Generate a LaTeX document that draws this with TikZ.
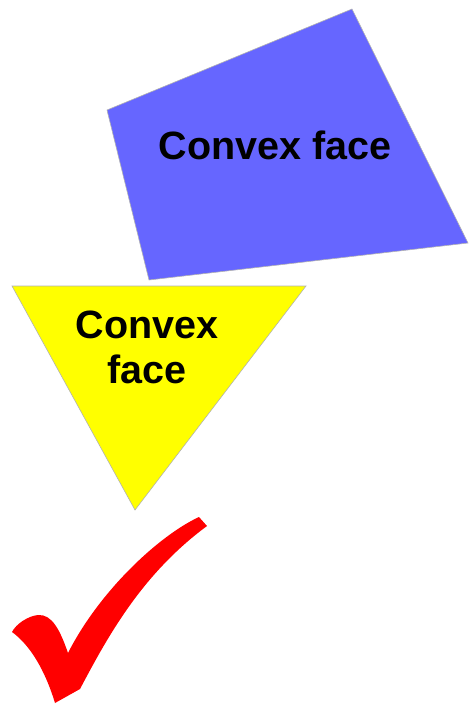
\documentclass[tikz,border=0pt]{standalone}
\usepackage{fontspec}
\setmainfont{Liberation Sans}
\definecolor{faceblue}{RGB}{102,102,255}
\definecolor{faceyellow}{RGB}{255,255,0}
\definecolor{checkred}{RGB}{255,0,0}
\tikzset{
  face/.style={draw=gray!60, line width=0.6pt, line join=miter},
  facelabel/.style={font=\bfseries\fontsize{39.5}{45}\selectfont, text=black, inner sep=0pt}
}
\begin{document}
\begin{tikzpicture}[x=1pt,y=-1pt]
\useasboundingbox (0,0) rectangle (469,707);
% blue quadrilateral
\draw[face, fill=faceblue] (107,110) -- (352,9) -- (468,243) -- (149,280) -- cycle;
\node[facelabel, anchor=base] (bluelabel) at (275,159) {Convex face};
% yellow triangle
\draw[face, fill=faceyellow] (12,286) -- (306,286) -- (135,510) -- cycle;
\node[facelabel, anchor=base] (yellowlabel1) at (147,338) {Convex};
\node[facelabel, anchor=base] (yellowlabel2) at (147,383) {face};
% red check mark
\fill[checkred] (55,703) -- (80,689)
  .. controls (108,636) and (142,574) .. (207,526)
  -- (199,517)
  .. controls (160,535) and (100,590) .. (68,653)
  .. controls (60,630) and (52,614) .. (38,615)
  .. controls (28,616) and (16,624) .. (12,632)
  .. controls (30,645) and (45,670) .. (55,703) -- cycle;
\end{tikzpicture}
\end{document}
